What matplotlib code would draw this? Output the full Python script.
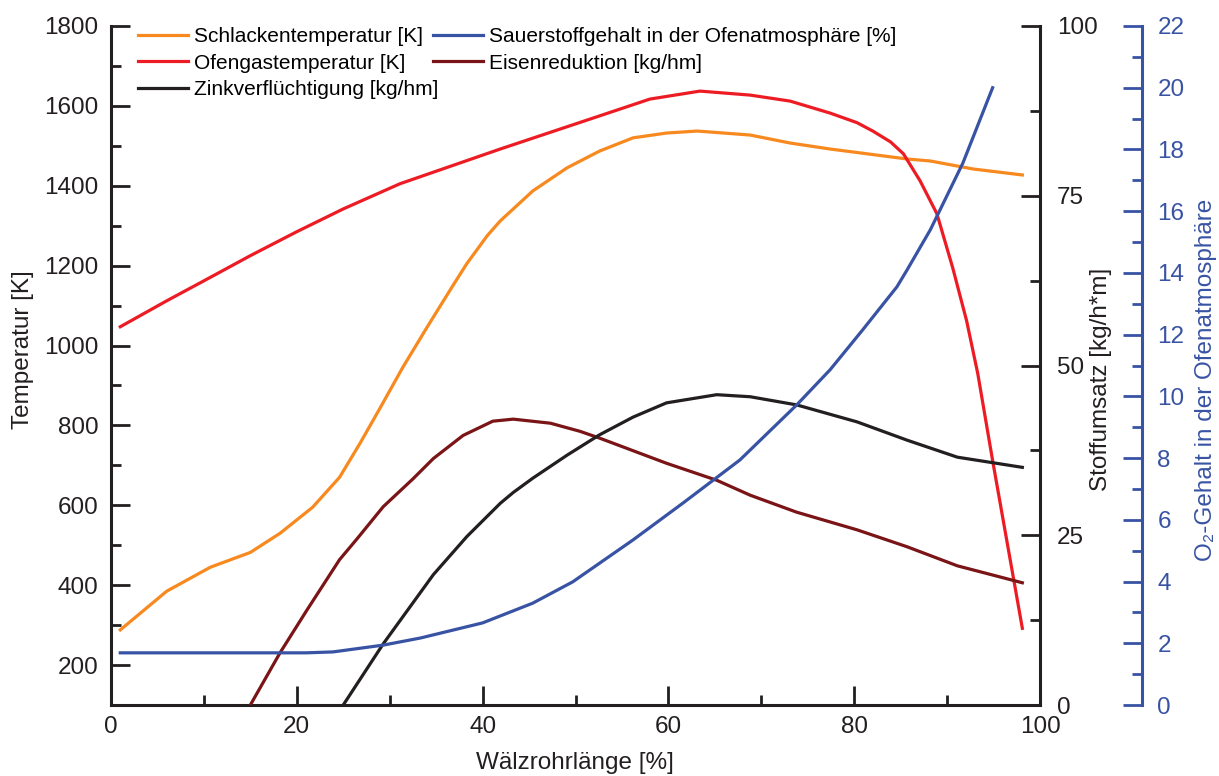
import matplotlib
matplotlib.use("Agg")
import matplotlib.pyplot as plt
from matplotlib.ticker import MultipleLocator

plt.rcParams['font.family'] = ['Liberation Sans', 'DejaVu Sans']

# Schlackentemperatur [K]
x_schlacke = [1, 6, 10.7, 15, 18.2, 21.7, 24.6, 26.8, 29.0, 31.4, 34.0, 36.8, 38.3, 40.5,
              41.9, 45.4, 49.1, 52.6, 56.2, 59.8, 63.1, 68.8, 73.1, 77.4, 85.7, 88.2,
              92.8, 98.1]
t_schlacke = [288, 385, 445, 482, 530, 595, 670, 755, 845, 945, 1045, 1150, 1205, 1275,
              1312, 1387, 1445, 1487, 1520, 1532, 1537, 1527, 1507, 1492, 1467, 1462,
              1442, 1427]

# Ofengastemperatur [K]
x_ofengas = [1, 6, 10, 15, 20, 25, 31.1, 41.9, 52.6, 58, 63.4, 68.8, 73.1, 77.4, 80.3,
             82.0, 83.9, 85.3, 87.1, 88.9, 90.6, 92.1, 93.3, 94.9, 98.1]
t_ofengas = [1047, 1112, 1162, 1225, 1285, 1342, 1405, 1492, 1575, 1617, 1637, 1627, 1612,
             1582, 1558, 1537, 1510, 1480, 1412, 1330, 1195, 1062, 930, 712, 292]

# Sauerstoffgehalt in der Ofenatmosphaere [%]
x_o2 = [1, 21, 23.9, 29.3, 33.3, 40, 45.4, 49.7, 56.2, 61.6, 67.7, 73.8, 77.4, 80.9,
        84.6, 85.7, 88.2, 91.7, 94.9]
o2 = [1.69, 1.69, 1.72, 1.94, 2.17, 2.66, 3.3, 3.99, 5.35, 6.55, 7.94, 9.72, 10.86, 12.15,
      13.55, 14.1, 15.4, 17.56, 20.0]

# Eisenreduktion [kg/hm]
x_eisen = [15, 18.2, 21.1, 24.6, 26.5, 29.3, 32.5, 34.7, 37.9, 41.1, 43.3, 47.3, 50.5,
           52.6, 59.8, 65.2, 68.8, 73.8, 80.3, 85.7, 91.1, 98.1]
eisen = [0, 7.7, 14.0, 21.4, 24.5, 29.2, 33.3, 36.3, 39.7, 41.8, 42.1, 41.5, 40.3,
         39.3, 35.6, 33.1, 30.9, 28.4, 25.8, 23.3, 20.5, 18.0]

# Zinkverfluechtigung [kg/hm]
x_zink = [25, 29.3, 32.9, 34.7, 38.3, 41.9, 43.3, 45.4, 49.1, 50.5, 52.6, 56.2, 59.8,
          65.2, 68.8, 73.8, 80.3, 85.7, 91.1, 98.1]
zink = [0, 9.0, 15.8, 19.2, 24.8, 29.7, 31.3, 33.4, 36.8, 38.0, 39.8, 42.4, 44.5,
        45.7, 45.4, 44.2, 41.7, 39.0, 36.5, 35.0]

c_orange = '#f7891f'
c_red = '#ed1c24'
c_blue = '#3953a4'
c_darkred = '#7a1416'
c_black = '#231f20'
lw = 2.3

fig = plt.figure(figsize=(12.19, 7.76), dpi=100)
ax = fig.add_axes([111 / 1219, 1 - 705 / 776, 929 / 1219, 679 / 776])
ax2 = ax.twinx()
ax3 = ax.twinx()

l1, = ax.plot(x_schlacke, t_schlacke, color=c_orange, lw=lw, label='Schlackentemperatur [K]')
l2, = ax.plot(x_ofengas, t_ofengas, color=c_red, lw=lw, label='Ofengastemperatur [K]')
l4, = ax2.plot(x_eisen, eisen, color=c_darkred, lw=lw, label='Eisenreduktion [kg/hm]')
l5, = ax2.plot(x_zink, zink, color=c_black, lw=lw, label='Zinkverflüchtigung [kg/hm]')
l3, = ax3.plot(x_o2, o2, color=c_blue, lw=lw, label='Sauerstoffgehalt in der Ofenatmosphäre [%]')

ax.set_xlim(0, 100)
ax.set_ylim(100, 1800)
ax2.set_ylim(0, 100)
ax3.set_ylim(0, 22)

ax.xaxis.set_major_locator(MultipleLocator(20))
ax.xaxis.set_minor_locator(MultipleLocator(10))
ax.yaxis.set_minor_locator(MultipleLocator(100))
ax.set_yticks(range(200, 1801, 200))
ax2.yaxis.set_major_locator(MultipleLocator(25))
ax2.yaxis.set_minor_locator(MultipleLocator(12.5))
ax3.yaxis.set_major_locator(MultipleLocator(2))
ax3.yaxis.set_minor_locator(MultipleLocator(1))

spine_w = 2.2
for a in (ax, ax2, ax3):
    for s in a.spines.values():
        s.set_linewidth(spine_w)
        s.set_color(c_black)
    a.spines['top'].set_visible(False)

ax2.spines['left'].set_visible(False)
ax3.spines['left'].set_visible(False)
ax.spines['right'].set_visible(False)
ax3.spines['bottom'].set_visible(False)
ax2.spines['bottom'].set_visible(False)
ax3.spines['right'].set_position(('axes', 1.11))
ax3.spines['right'].set_color(c_blue)

tick_kw = dict(direction='in', width=2, colors=c_black, labelsize=17.5)
ax.tick_params(axis='both', which='major', length=14, **tick_kw)
ax.tick_params(axis='both', which='minor', length=7, **tick_kw)
ax.tick_params(axis='y', which='major', pad=9)
ax.tick_params(axis='x', which='major', pad=8)
ax2.tick_params(axis='y', which='major', length=14, pad=12, **tick_kw)
ax2.tick_params(axis='y', which='minor', length=7, **tick_kw)
ax3.tick_params(axis='y', which='major', length=14, pad=11, direction='in', width=2,
                colors=c_blue, labelsize=17.5)
ax3.tick_params(axis='y', which='minor', length=7, direction='in', width=2, colors=c_blue)

ax.set_xlabel('Wälzrohrlänge [%]', fontsize=17.5, color=c_black)
ax.xaxis.set_label_coords(0.4995, -0.069)
ax.set_ylabel('Temperatur [K]', fontsize=17.5, color=c_black)
ax.yaxis.set_label_coords(-0.083, 0.523)
ax2.set_ylabel('Stoffumsatz [kg/h*m]', fontsize=17.5, color=c_black)
ax2.yaxis.set_label_coords(1.0538, 0.479)
ax3.set_ylabel('O₂-Gehalt in der Ofenatmosphäre', fontsize=17.5, color=c_blue)
ax3.yaxis.set_label_coords(1.167, 0.479)

ax3.set_zorder(ax.get_zorder() + 2)
ax2.set_zorder(ax.get_zorder() + 1)
for a in (ax2, ax3):
    a.patch.set_visible(False)

leg_kw = dict(loc='upper left', frameon=False, fontsize=15, handlelength=2.4,
              handletextpad=0.3, labelspacing=0.36, borderpad=0, borderaxespad=0)
leg1 = ax3.legend(handles=[l1, l2, l5], bbox_to_anchor=(0.029, 0.9985), **leg_kw)
ax3.add_artist(leg1)
ax3.legend(handles=[l3, l4], bbox_to_anchor=(0.3466, 0.9985), **leg_kw)

fig.savefig('out.png', dpi=100)
